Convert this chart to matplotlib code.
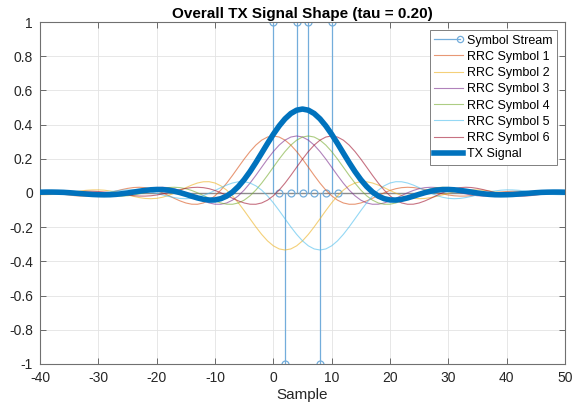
import numpy as np
import matplotlib
matplotlib.use("Agg")
import matplotlib.pyplot as plt
from matplotlib.lines import Line2D
from matplotlib.legend_handler import HandlerBase

# symbol stream (upsampled by 2) and the six symbols
stream_x = list(range(12))
stream_y = [1, 0, -1, 0, 1, 0, 1, 0, -1, 0, 1, 0]
symbol_pos = [0, 2, 4, 6, 8, 10]
symbols = [1, -1, 1, 1, -1, 1]

# RRC pulse (tau = 0.20), one side, offsets 0..50 samples
rrc_half = [0.3335, 0.3273, 0.3091, 0.2801, 0.2423, 0.1983, 0.1509, 0.1030, 0.0575, 0.0170,
            -0.0166, -0.0419, -0.0584, -0.0660, -0.0656, -0.0584, -0.0462, -0.0310, -0.0146, 0.0012,
            0.0147, 0.0250, 0.0313, 0.0334, 0.0318, 0.0268, 0.0196, 0.0111, 0.0024, -0.0055,
            -0.0119, -0.0163, -0.0183, -0.0180, -0.0158, -0.0120, -0.0073, -0.0024, 0.0022, 0.0060,
            0.0087, 0.0099, 0.0099, 0.0086, 0.0065, 0.0039, 0.0011, -0.0015, -0.0035, -0.0049,
            -0.0054]

rrc_names = ['RRC Symbol 1', 'RRC Symbol 2', 'RRC Symbol 3',
             'RRC Symbol 4', 'RRC Symbol 5', 'RRC Symbol 6']
rrc_colors = ['#D95319', '#EDB120', '#7E2F8E', '#77AC30', '#4DBEEE', '#A2142F']
blue = '#0072BD'

pulse = np.array(rrc_half[:0:-1] + rrc_half)   # offsets -50..50
n_half = len(rrc_half) - 1
x = np.arange(-n_half, n_half + symbol_pos[-1] + 1)
rrc_series = []
for p, s in zip(symbol_pos, symbols):
    y = np.zeros(len(x))
    y[p:p + len(pulse)] = s * pulse
    rrc_series.append(y)
tx = np.sum(rrc_series, axis=0)

plt.rcParams['font.family'] = ['Liberation Sans', 'DejaVu Sans']
plt.rcParams['axes.unicode_minus'] = False

fig = plt.figure(figsize=(5.85, 4.08), dpi=100)
ax = fig.add_axes([0.0684, 0.108, 0.8974, 0.838])

stem_col = (0.45, 0.68, 0.86)
ax.axhline(0, color='#8c8c8c', lw=1.0, zorder=1)
ax.vlines(stream_x, 0, stream_y, color=stem_col, lw=0.9, zorder=2)
ax.plot(stream_x, stream_y, 'o', ms=5, mfc='none', mec=stem_col, mew=0.9, zorder=2)

handles = []
for y, c, name in zip(rrc_series, rrc_colors, rrc_names):
    ln, = ax.plot(x, y, color=c, lw=0.8, alpha=0.6, zorder=3, label=name)
    handles.append(ln)
tx_line, = ax.plot(x, tx, color=blue, lw=4, zorder=4, label='TX Signal')

ax.set_xlim(-40, 50)
ax.set_ylim(-1, 1)
ax.set_xticks(np.arange(-40, 51, 10))
ax.set_yticks(np.round(np.arange(-1, 1.01, 0.2), 1))
ax.set_yticklabels(['-1', '-0.8', '-0.6', '-0.4', '-0.2', '0', '0.2', '0.4', '0.6', '0.8', '1'])
ax.grid(True, color='#e3e3e3', lw=0.6)
ax.set_axisbelow(True)
ax.tick_params(direction='in', top=True, right=True, length=4, width=0.6,
               color='#555555', labelsize=10, labelcolor='#262626', pad=5)
for sp in ax.spines.values():
    sp.set_color('#707070')
    sp.set_linewidth(0.8)

ax.set_title('Overall TX Signal Shape (tau = 0.20)', fontsize=11, fontweight='bold',
             color='black', pad=3)
ax.set_xlabel('Sample', fontsize=11, color='#262626', labelpad=2)


class StemHandler(HandlerBase):
    def create_artists(self, legend, orig_handle, xdescent, ydescent, width, height,
                       fontsize, trans):
        yc = height / 2 - ydescent
        line = Line2D([-xdescent, width - xdescent - 2], [yc, yc], color=stem_col, lw=0.9)
        mk = Line2D([width - xdescent - 2], [yc], marker='o', ms=4.5, mfc='none',
                    mec=stem_col, mew=0.9, ls='none')
        line.set_transform(trans)
        mk.set_transform(trans)
        return [line, mk]


stem_proxy = Line2D([], [], color=stem_col)
leg = ax.legend([stem_proxy] + handles + [tx_line],
                ['Symbol Stream'] + rrc_names + ['TX Signal'],
                handler_map={stem_proxy: StemHandler()},
                loc='upper right', fontsize=9, frameon=True, fancybox=False,
                edgecolor='#808080', framealpha=1, handlelength=2.3, handletextpad=0.3,
                labelspacing=0.34, borderpad=0.35, borderaxespad=0.65)
leg.get_frame().set_linewidth(0.7)

fig.savefig('out.png', dpi=100)
